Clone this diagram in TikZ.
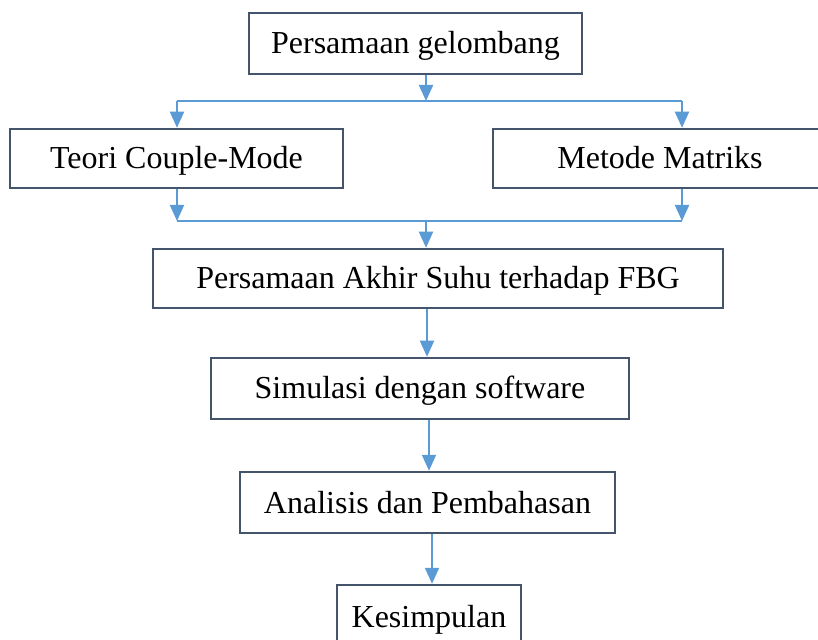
\documentclass[tikz,border=0pt]{standalone}
\usepackage{fontspec}
\setmainfont{Liberation Serif}
\usetikzlibrary{arrows.meta}
\definecolor{garisbox}{HTML}{44546A}
\definecolor{biru}{HTML}{5B9BD5}
\begin{document}
\begin{tikzpicture}[x=0.5pt,y=-0.5pt,
    langkah/.style={draw=garisbox, line width=1.25pt, fill=white, inner sep=0pt,
        text height=13.5pt, text depth=3pt, font=\fontsize{16}{19}\selectfont},
    panah/.style={draw=biru, line width=1pt, -{Triangle[width=7pt,length=8pt]}},
    cabang/.style={draw=biru, line width=0.7pt}]
    \useasboundingbox (0,0) rectangle (818,640);

    \node[langkah, minimum width=166.5pt, minimum height=30.5pt] (gelombang) at (415.5,43.5) {Persamaan gelombang};
    \node[langkah, minimum width=166.5pt, minimum height=29.5pt] (teori) at (176.5,158.5) {Teori Couple-Mode};
    \node[langkah, minimum width=167pt, minimum height=29.5pt] (matriks) at (660,158.5) {Metode Matriks};
    \node[langkah, minimum width=285pt, minimum height=29.5pt] (akhir) at (438,278.5) {Persamaan Akhir Suhu terhadap FBG};
    \node[langkah, minimum width=209pt, minimum height=30.5pt] (simulasi) at (420,388.5) {Simulasi dengan software};
    \node[langkah, minimum width=187.5pt, minimum height=30.5pt] (analisis) at (427.5,502.5) {Analisis dan Pembahasan};
    \node[langkah, minimum width=92pt, minimum height=32pt] (simpul) at (429,617) {Kesimpulan};

    % percabangan atas
    \coordinate (atas) at (426,101);
    \coordinate (kiriA) at (177,101);
    \coordinate (kananA) at (682,101);
    \draw[panah] (gelombang.south -| atas) -- (atas);
    \draw[cabang] (kiriA) -- (kananA);
    \draw[panah] (kiriA) -- (kiriA |- teori.north);
    \draw[panah] (kananA) -- (kananA |- matriks.north);

    % penggabungan bawah
    \coordinate (bawah) at (426,221);
    \coordinate (kiriB) at (177,221);
    \coordinate (kananB) at (682,221);
    \draw[panah] (kiriB |- teori.south) -- (kiriB);
    \draw[panah] (kananB |- matriks.south) -- (kananB);
    \draw[cabang] (kiriB) -- (kananB);
    \draw[panah] (bawah) -- (bawah |- akhir.north);

    \coordinate (p1) at (427,0);
    \coordinate (p2) at (429,0);
    \coordinate (p3) at (432,0);
    \draw[panah] (akhir.south -| p1) -- (simulasi.north -| p1);
    \draw[panah] (simulasi.south -| p2) -- (analisis.north -| p2);
    \draw[panah] (analisis.south -| p3) -- (simpul.north -| p3);
\end{tikzpicture}
\end{document}
